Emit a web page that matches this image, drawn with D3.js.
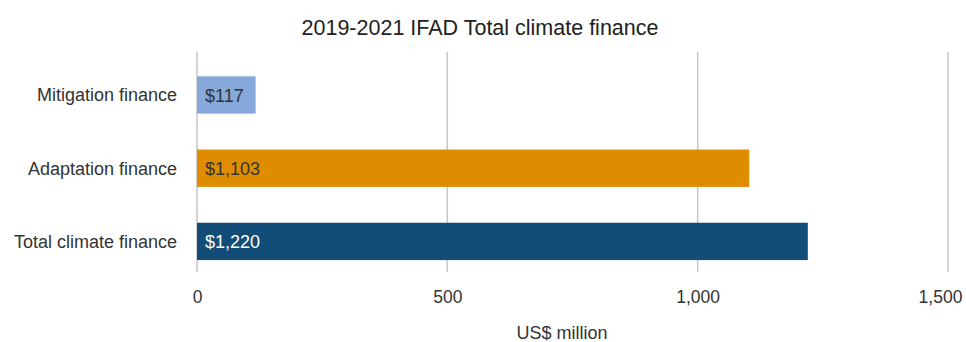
<!DOCTYPE html>
<html>
<head>
<meta charset="utf-8">
<script src="https://cdn.jsdelivr.net/npm/d3@7"></script>
<style>
  html, body { margin: 0; padding: 0; background: #fff; }
  svg { display: block; font-family: "Liberation Sans", Arial, sans-serif; }
</style>
</head>
<body>
<svg id="chart" width="966" height="342"></svg>
<script>
// Climate finance categories and values (US$ million)
const categories = ["Mitigation finance", "Adaptation finance", "Total climate finance"];
const values = [117, 1103, 1220];
const valueLabels = ["$117", "$1,103", "$1,220"];
const barColors = ["#86a8da", "#e08c00", "#124d77"];
const labelColors = ["#333333", "#333333", "#ffffff"];
const tickValues = [0, 500, 1000, 1500];

const svg = d3.select("#chart");

const x = d3.scaleLinear().domain([0, 1500]).range([197, 948]);
const y = d3.scaleBand()
  .domain(categories)
  .range([58.4, 278])
  .paddingInner(0.49)
  .paddingOuter(0.245);

const gridTop = 52, gridBottom = 272;

// Title
svg.append("text")
  .attr("x", 480).attr("y", 35)
  .attr("text-anchor", "middle")
  .attr("font-size", 21.5)
  .attr("fill", "#222")
  .text("2019-2021 IFAD Total climate finance");

// Vertical gridlines
svg.append("g")
  .selectAll("line")
  .data(tickValues)
  .join("line")
  .attr("x1", d => x(d)).attr("x2", d => x(d))
  .attr("y1", gridTop).attr("y2", gridBottom)
  .attr("stroke", "#c6c6c6")
  .attr("stroke-width", 1.5);

// X axis tick labels
const xAxis = d3.axisBottom(x)
  .tickValues(tickValues)
  .tickSize(0)
  .tickPadding(0)
  .tickFormat(d3.format(","));
const gx = svg.append("g")
  .attr("transform", `translate(0,${gridBottom})`)
  .call(xAxis);
gx.select(".domain").remove();
gx.selectAll("text")
  .attr("font-size", 17.5)
  .attr("font-family", "Liberation Sans, Arial, sans-serif")
  .attr("fill", "#333")
  .attr("dy", null)
  .attr("y", 31);
// keep the last tick label inside the frame
gx.selectAll(".tick")
  .filter(d => d === 1500)
  .select("text")
  .attr("x", -8);

// Axis title
svg.append("text")
  .attr("x", 562).attr("y", 339)
  .attr("text-anchor", "middle")
  .attr("font-size", 18)
  .attr("fill", "#333")
  .text("US$ million");

// Category labels
svg.append("g")
  .selectAll("text")
  .data(categories)
  .join("text")
  .attr("x", 177)
  .attr("y", d => y(d) + y.bandwidth() / 2)
  .attr("dy", "0.35em")
  .attr("text-anchor", "end")
  .attr("font-size", 18)
  .attr("fill", "#333")
  .text(d => d);

// Bars
svg.append("g")
  .selectAll("rect")
  .data(categories)
  .join("rect")
  .attr("x", x(0))
  .attr("y", d => y(d))
  .attr("width", (d, i) => x(values[i]) - x(0))
  .attr("height", y.bandwidth())
  .attr("fill", (d, i) => barColors[i]);

// Value labels inside bars
svg.append("g")
  .selectAll("text")
  .data(categories)
  .join("text")
  .attr("x", x(0) + 8)
  .attr("y", d => y(d) + y.bandwidth() / 2)
  .attr("dy", "0.38em")
  .attr("font-size", 18)
  .attr("fill", (d, i) => labelColors[i])
  .text((d, i) => valueLabels[i]);
</script>
</body>
</html>
